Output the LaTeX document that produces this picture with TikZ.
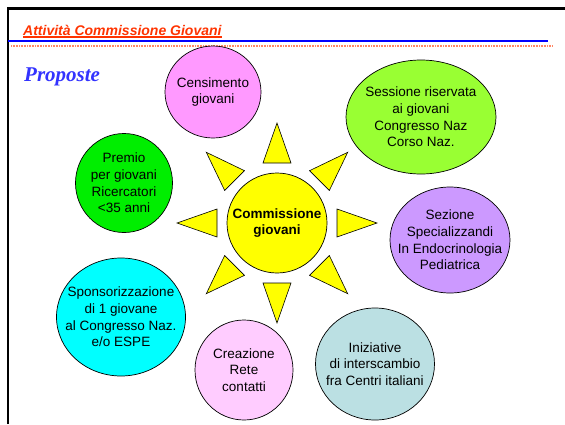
\documentclass[tikz,border=0pt]{standalone}
\usepackage{fontspec}
\setmainfont{Liberation Sans}
\newfontfamily\serifface{Liberation Serif}
\usetikzlibrary{shapes.geometric}

\definecolor{titlered}{HTML}{FF3300}
\definecolor{propblue}{HTML}{3333FF}
\definecolor{linesalmon}{HTML}{FF8866}
\definecolor{sunyellow}{HTML}{FFFF00}
\definecolor{censpink}{HTML}{FF99FF}
\definecolor{sessgreen}{HTML}{99FF33}
\definecolor{sezlilac}{HTML}{CC99FF}
\definecolor{inizteal}{HTML}{BBE0E3}
\definecolor{creapink}{HTML}{FFCCFF}
\definecolor{sponcyan}{HTML}{00FFFF}
\definecolor{premgreen}{HTML}{00EE00}

\begin{document}
\begin{tikzpicture}[
        x = 1pt, y = -1pt,
        bubble/.style = {ellipse, draw=black, line width=0.7pt, inner sep=0pt},
        bubbletext/.style = {align=center, inner sep=0pt, font=\fontsize{13.5}{16.7}\selectfont},
        ray/.style = {draw=black, line width=0.6pt, fill=sunyellow},
      ]

      \useasboundingbox (0,0) rectangle (565,424);

      % frame and header
      \draw[line width=2.4pt] (8,424) -- (8,8.6) -- (565,8.6);
      \node[anchor=base west, inner sep=0pt, text=titlered,
            font=\bfseries\itshape\fontsize{14}{16}\selectfont] (title) at (23,35) {Attività Commissione Giovani};
      \draw[titlered, line width=1.4pt] ([yshift=-2pt]title.base west) -- ([yshift=-2pt]title.base east);
      \draw[blue, line width=1.3pt] (8,41) -- (548,41);
      \draw[linesalmon, line width=1.6pt, dash pattern=on 1pt off 0.6pt] (11,45.7) -- (553,45.7);
      \node[anchor=base west, inner sep=0pt, text=propblue,
            font=\serifface\bfseries\itshape\fontsize{21}{24}\selectfont] (proposte) at (24,81.7) {Proposte};

      % sun
      \node[circle, draw=black, line width=0.7pt, fill=sunyellow, minimum size=100pt, inner sep=0pt,
            align=center, font=\bfseries\fontsize{13.5}{16.7}\selectfont] (sun) at (277,223) {Commissione\\giovani};
      \foreach \a in {0,45,...,315}
        \draw[ray, shift={(sun.center)}, rotate=\a] (60,-14) -- (100,0) -- (60,14) -- cycle;

      % proposals
      \node[bubble, fill=censpink, minimum width=96pt, minimum height=92pt,
            label={[bubbletext]center:{Censimento\\giovani}}] (census) at (213,92) {};
      \node[bubble, fill=sessgreen, minimum width=150pt, minimum height=114pt,
            label={[bubbletext]center:{Sessione riservata\\ai giovani\\Congresso Naz\\Corso Naz.}}] (session) at (421,117) {};
      \node[bubble, fill=sezlilac, minimum width=120pt, minimum height=106pt,
            label={[bubbletext]center:{Sezione\\Specializzandi\\In Endocrinologia\\Pediatrica}}] (section) at (450,240) {};
      \node[bubble, fill=inizteal, minimum width=119pt, minimum height=112pt,
            label={[bubbletext]center:{Iniziative\\di interscambio\\fra Centri italiani}}] (exchange) at (375,364) {};
      \node[bubble, fill=creapink, minimum width=98pt, minimum height=100pt,
            label={[bubbletext]center:{Creazione\\Rete\\contatti}}] (network) at (244,370) {};
      \node[bubble, fill=sponcyan, minimum width=129pt, minimum height=118pt,
            label={[bubbletext]center:{Sponsorizzazione\\di 1 giovane\\al Congresso Naz.\\e/o ESPE}}] (sponsor) at (121,317) {};
      \node[bubble, fill=premgreen, minimum width=97pt, minimum height=99pt,
            label={[bubbletext]center:{Premio\\per giovani\\Ricercatori\\<35 anni}}] (prize) at (124,183) {};

    \end{tikzpicture}
\end{document}
